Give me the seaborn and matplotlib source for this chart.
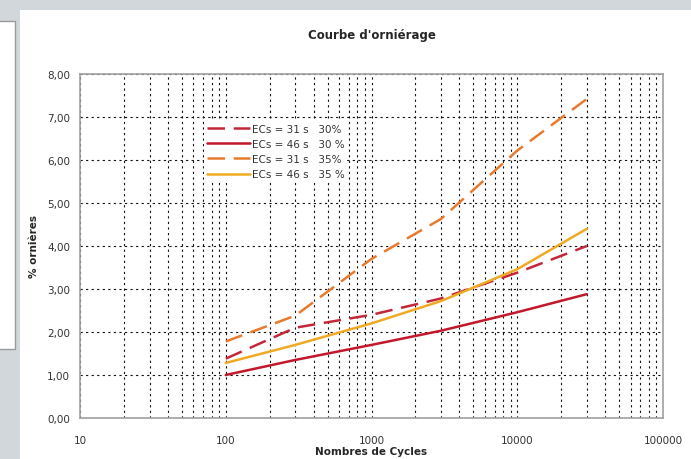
import pandas as pd
import seaborn as sns
import matplotlib.pyplot as plt
from matplotlib.ticker import FuncFormatter, LogLocator, NullFormatter
from matplotlib.patches import Rectangle

# Values
cycles = [100, 300, 1000, 3000, 10000, 30000]
ecs31_30 = [1.38, 2.10, 2.40, 2.78, 3.38, 4.00]
ecs46_30 = [1.00, 1.35, 1.70, 2.03, 2.46, 2.88]
ecs31_35 = [1.78, 2.38, 3.70, 4.63, 6.22, 7.42]
ecs46_35 = [1.28, 1.70, 2.20, 2.72, 3.46, 4.40]

labels = ['ECs = 31 s   30%', 'ECs = 46 s   30 %', 'ECs = 31 s   35%', 'ECs = 46 s   35 %']
series = [ecs31_30, ecs46_30, ecs31_35, ecs46_35]
colors = ['#c3283a', '#c3172b', '#e87a2e', '#f0aa22']
dashed = [True, False, True, False]

# Long table for seaborn
rows = []
for lab, vals in zip(labels, series):
    for c, v in zip(cycles, vals):
        rows.append({'Cycles': c, 'Ornieres': v, 'Serie': lab})
df = pd.DataFrame(rows)

sns.set_style('white')
plt.rcParams['font.family'] = ['DejaVu Sans']

fig = plt.figure(figsize=(6.91, 4.60), dpi=100)
fig.patch.set_facecolor('#d2d7db')
# white panel and left box like the screenshot
fig.patches.append(Rectangle((20 / 691, 0), 1 - 20 / 691, 1 - 11 / 460,
                             transform=fig.transFigure, facecolor='white',
                             edgecolor='none', zorder=-5))
fig.patches.append(Rectangle((-0.01, 1 - 350 / 460), 0.01 + 15 / 691, (350 - 22) / 460,
                             transform=fig.transFigure, facecolor='white',
                             edgecolor='#9a9a9a', linewidth=1, zorder=-5))

ax = fig.add_axes([80 / 691, 1 - 419 / 460, 583 / 691, 344 / 460])
ax.set_facecolor('white')

sns.lineplot(data=df, x='Cycles', y='Ornieres', hue='Serie', style='Serie',
             palette=dict(zip(labels, colors)),
             dashes={l: ((7, 3.5) if d else '') for l, d in zip(labels, dashed)},
             linewidth=1.8, ax=ax, legend=True)

ax.set_xscale('log')
ax.set_xlim(10, 100000)
ax.set_ylim(0, 8)
ax.set_yticks([i for i in range(9)])
ax.yaxis.set_major_formatter(FuncFormatter(lambda v, p: f'{v:.2f}'.replace('.', ',')))
ax.xaxis.set_major_locator(LogLocator(base=10))
ax.xaxis.set_minor_locator(LogLocator(base=10, subs=range(2, 10)))
ax.xaxis.set_minor_formatter(NullFormatter())
ax.xaxis.set_major_formatter(FuncFormatter(lambda v, p: f'{int(round(v))}'))

grid_kw = dict(color='#111111', linestyle=(0, (2, 3)), linewidth=0.8)
ax.grid(True, which='major', axis='both', **grid_kw)
ax.grid(True, which='minor', axis='x', **grid_kw)
ax.set_axisbelow(True)

for s in ax.spines.values():
    s.set_color('#a0a0a0')
    s.set_linewidth(1.2)
ax.tick_params(axis='both', which='major', direction='out', length=4, color='#a0a0a0',
               labelsize=7.5, labelcolor='#333333', pad=3)
ax.tick_params(axis='x', which='minor', length=0)
ax.tick_params(axis='x', which='major', pad=8)

ax.set_title("Courbe d'orniérage", fontsize=8.5, fontweight='bold', pad=26)
ax.set_xlabel('Nombres de Cycles', fontsize=7.5, fontweight='bold', labelpad=1)
ax.set_ylabel('% ornières', fontsize=7.5, fontweight='bold', labelpad=6)

leg = ax.legend(loc='upper left', bbox_to_anchor=(0.212, 0.865), frameon=True,
                fontsize=7.5, handlelength=4.2, handletextpad=0.1, labelspacing=0.5,
                borderpad=0.3, borderaxespad=0, fancybox=False, framealpha=1)
leg.get_frame().set_facecolor('white')
leg.get_frame().set_edgecolor('none')
for t in leg.get_texts():
    t.set_color('#333333')

fig.savefig('out.png', dpi=100, facecolor=fig.get_facecolor())
